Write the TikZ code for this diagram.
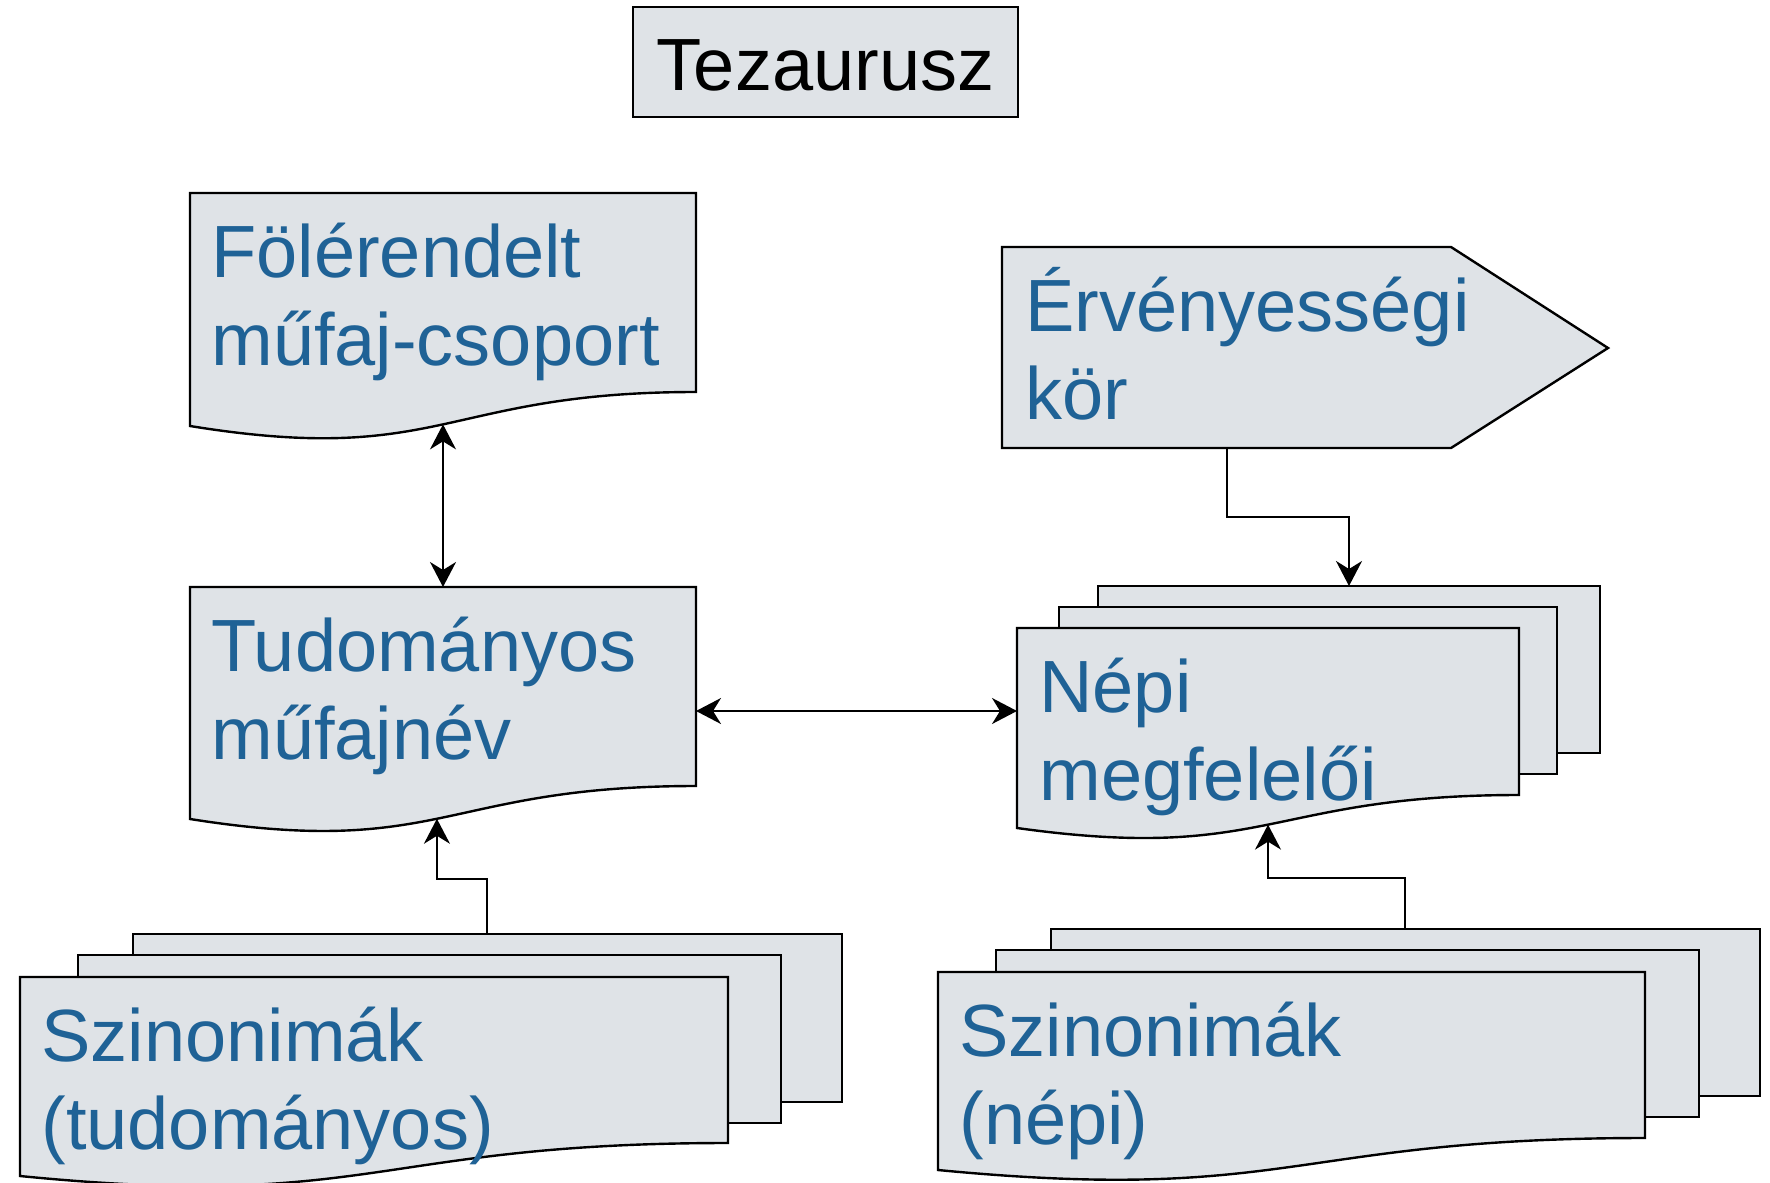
\documentclass[tikz,border=0pt]{standalone}
\usepackage{fontspec}
\setmainfont{Liberation Sans}
\usetikzlibrary{arrows.meta}
\definecolor{boxfill}{RGB}{223,227,231}
\definecolor{txtblue}{RGB}{31,98,150}
\newcommand{\twoline}[2]{\begin{tabular}[t]{@{}l@{}}#1\\#2\end{tabular}}
\begin{document}
\begin{tikzpicture}[x=0.5pt,y=-0.5pt,
  shapebox/.style={draw=black,fill=boxfill,line width=1.2pt,line join=miter},
  conn/.style={draw=black,line width=1pt},
  tipend/.style={-{Stealth[length=12.5pt,width=13pt,inset=4pt]}},
  tipboth/.style={{Stealth[length=12.5pt,width=13pt,inset=4pt]}-{Stealth[length=12.5pt,width=13pt,inset=4pt]}},
  doctext/.style={anchor=base west,inner sep=0pt,text=txtblue,font=\fontsize{37pt}{44pt}\selectfont},
  titletext/.style={anchor=base,inner sep=0pt,text=black,font=\fontsize{37pt}{44pt}\selectfont}
]
\useasboundingbox (0,0) rectangle (1770,1182);

% Tezaurusz
\path[shapebox] (633,7) rectangle (1018,117);
\node[titletext] (tez) at (825.5,91) {Tezaurusz};

% Folerendelt
\path[shapebox] (190,193) -- (696,193) -- (696,392)
  .. controls (443,392) and (443,467) .. (190,426) coordinate[pos=0.5] (folW) -- cycle;
\node[doctext] (fol) at (211,277) {\twoline{Fölérendelt}{műfaj-csoport}};

% Ervenyessegi kor
\path[shapebox] (1002,247) -- (1451,247) -- (1608,348) -- (1451,448) -- (1002,448) -- cycle;
\coordinate (ervB) at (1227,448);
\node[doctext] (erv) at (1025,331) {\twoline{Érvényességi}{kör}};

% Tudomanyos mufajnev
\path[shapebox] (190,587) -- (696,587) -- (696,786)
  .. controls (443,786) and (443,859) .. (190,819) coordinate[pos=0.5] (tudW) coordinate[pos=0.516] (tudW2) -- cycle;
\coordinate (tudT) at (443,587);
\coordinate (tudR) at (696,711);
\node[doctext] (tud) at (211,671) {\twoline{Tudományos}{műfajnév}};

% Nepi megfeleloi (stack)
\path[shapebox] (1098,586) rectangle (1600,753);
\path[shapebox] (1059,607) rectangle (1557,774);
\path[shapebox] (1017,628) -- (1519,628) -- (1519,795)
  .. controls (1268,795) and (1268,863) .. (1017,828) coordinate[pos=0.5] (nepW) -- cycle;
\coordinate (nepT) at (1349,586);
\coordinate (nepL) at (1017,711);
\node[doctext] (nep) at (1039,712) {\twoline{Népi}{megfelelői}};

% Szinonimak (tudomanyos)
\path[shapebox] (133,934) rectangle (842,1102);
\path[shapebox] (78,955) rectangle (781,1123);
\path[shapebox] (20,977) -- (728,977) -- (728,1143)
  .. controls (374,1143) and (374,1211) .. (20,1176) -- cycle;
\coordinate (lsynT) at (487,934);
\node[doctext] (lsyn) at (41,1061) {\twoline{Szinonimák}{(tudományos)}};

% Szinonimak (nepi)
\path[shapebox] (1051,929) rectangle (1760,1096);
\path[shapebox] (996,950) rectangle (1699,1117);
\path[shapebox] (938,972) -- (1645,972) -- (1645,1138)
  .. controls (1291.5,1138) and (1291.5,1204) .. (938,1170) -- cycle;
\coordinate (rsynT) at (1405,929);
\node[doctext] (rsyn) at (959,1056) {\twoline{Szinonimák}{(népi)}};

% connectors
\draw[conn,tipboth] (folW) -- (tudT);
\draw[conn,tipend] (ervB) -- ++(0,69) -| (nepT);
\draw[conn,tipboth] (tudR) -- (nepL);
\draw[conn,tipend] (lsynT) -- ++(0,-55) -| (tudW2);
\draw[conn,tipend] (rsynT) -- ++(0,-51) -| (nepW);
\end{tikzpicture}
\end{document}
